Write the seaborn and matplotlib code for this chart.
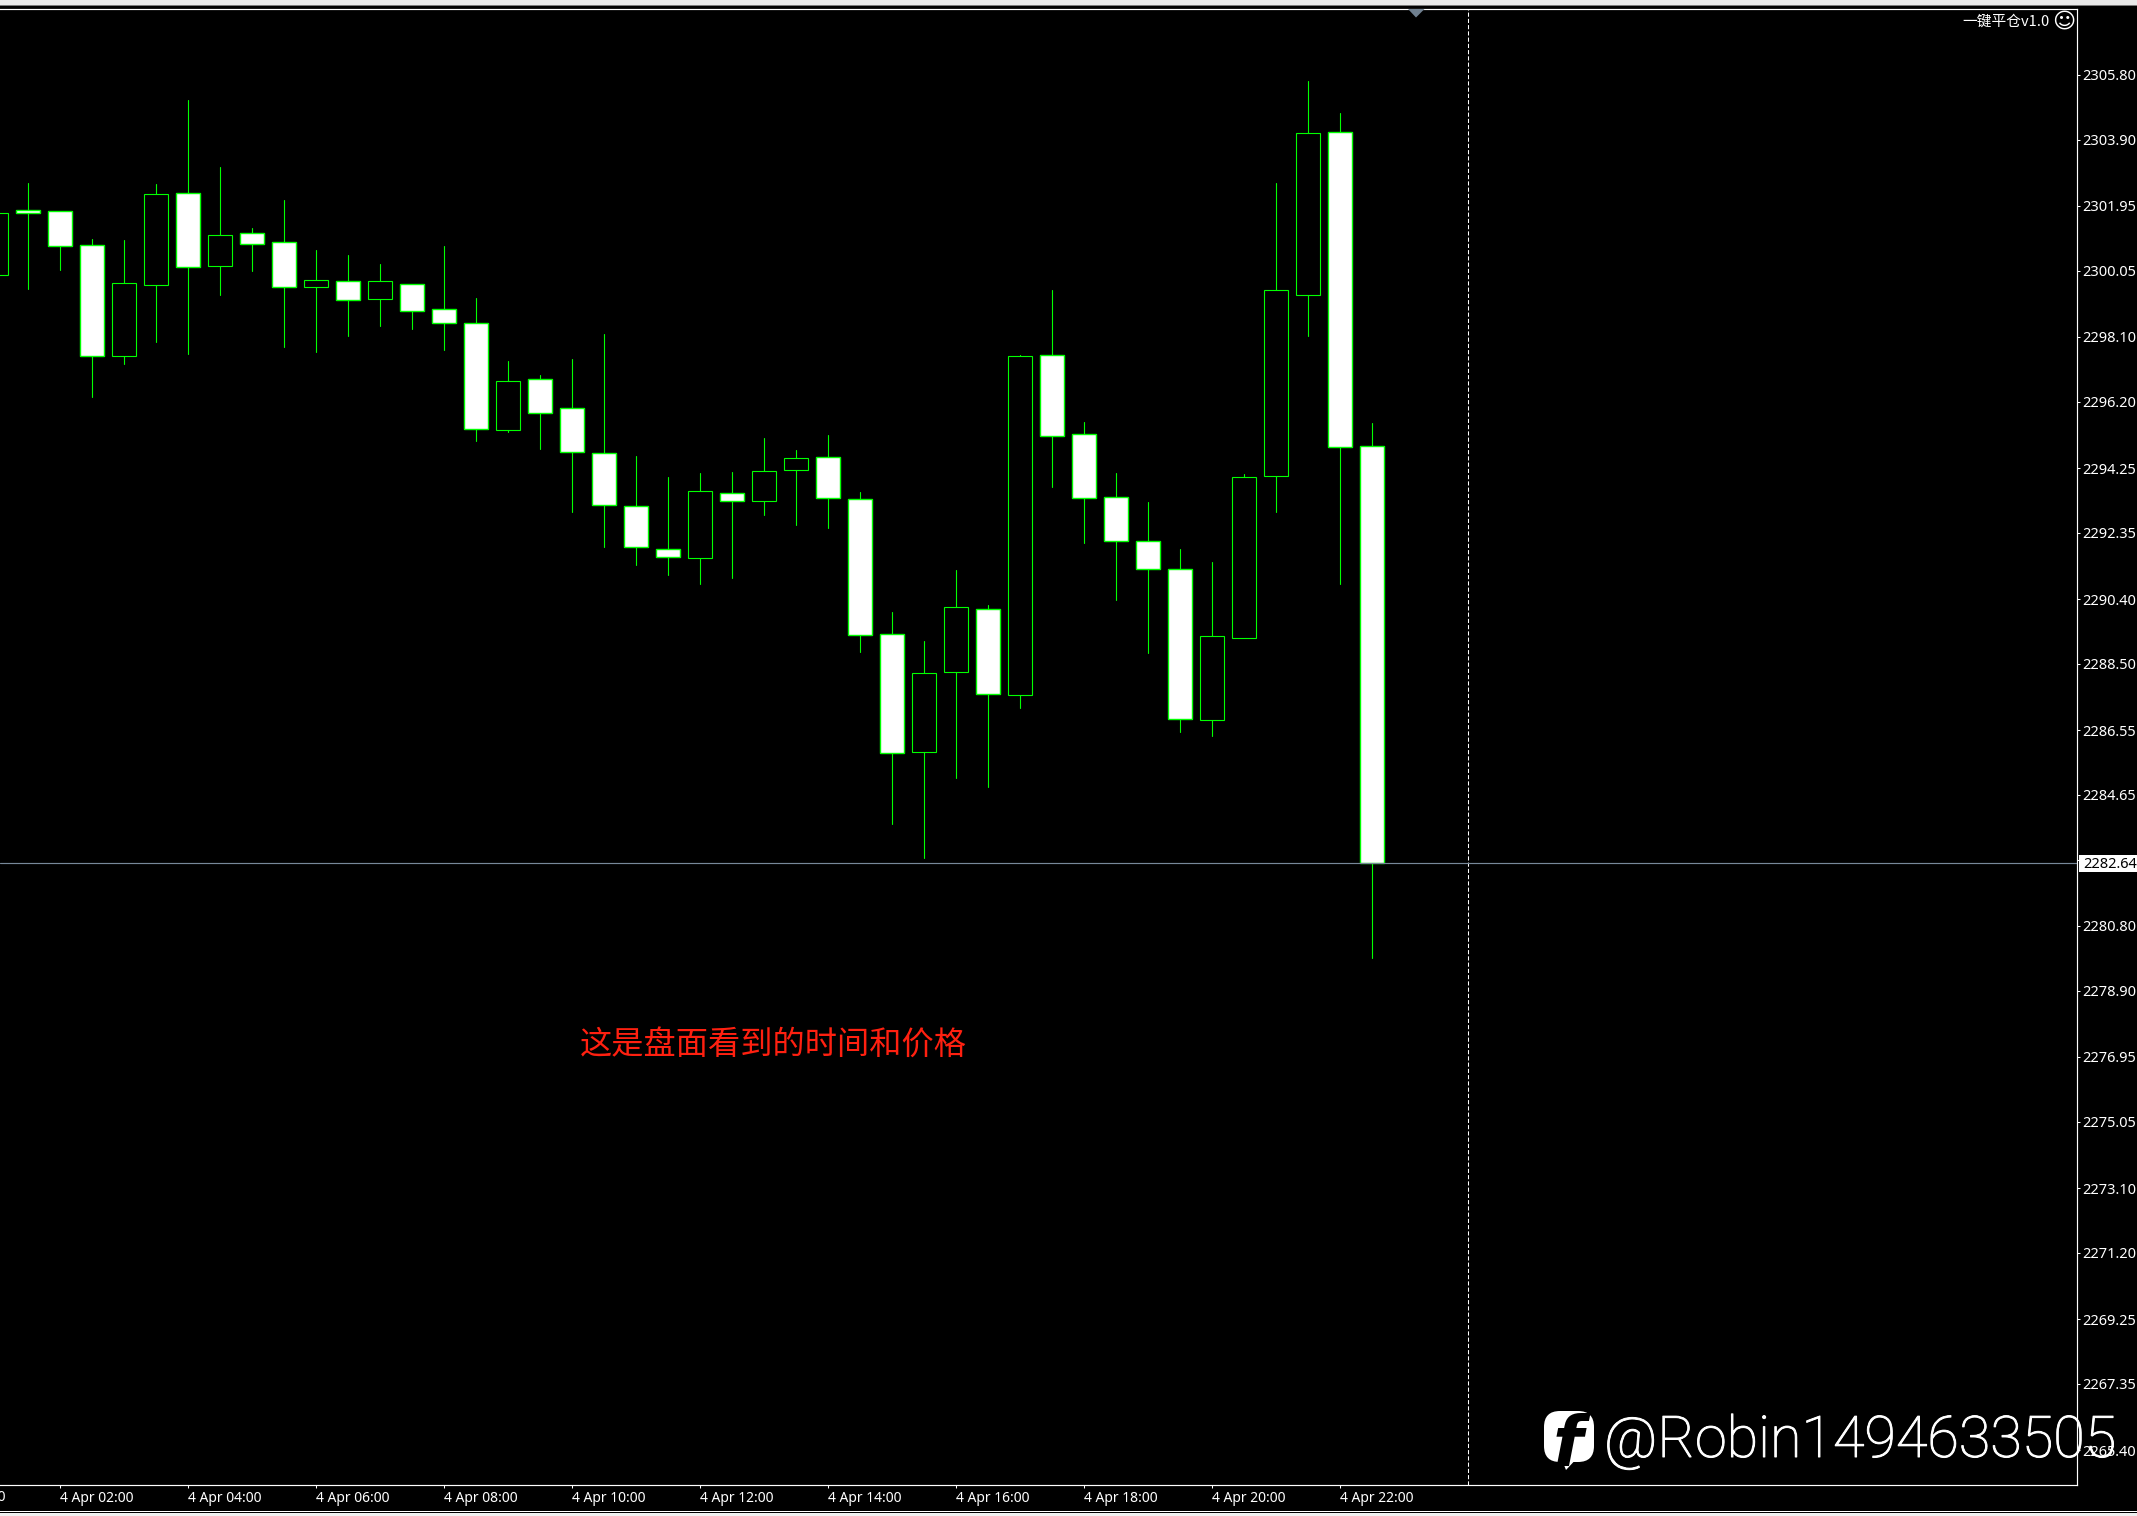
"""
plot.py
Candlestick chart of the 4 Apr session (30 minute bars), trading terminal look.
White body = falling bar, black body = rising bar.
"""

import numpy as np
import pandas as pd
import matplotlib.pyplot as plt
import matplotlib.patheffects as pe
import seaborn as sns
from matplotlib.patches import FancyBboxPatch, Polygon, Rectangle

# bars start at 01:00, one every half hour
hours = np.arange(1.0, 23.0, 0.5)

opens = [2299.93, 2301.82, 2301.79, 2300.79, 2297.55, 2299.64, 2302.32, 2300.19, 2301.15, 2300.88, 2299.58,
         2299.74, 2299.23, 2299.65, 2298.91, 2298.50, 2295.36, 2296.87, 2296.02, 2294.70, 2293.13, 2291.88,
         2291.60, 2293.53, 2293.27, 2294.18, 2294.57, 2293.33, 2289.37, 2285.92, 2288.27, 2290.10, 2287.57,
         2297.56, 2295.24, 2293.39, 2292.10, 2291.28, 2286.86, 2289.27, 2294.01, 2299.34, 2304.11, 2294.89]
closes = [2301.73, 2301.75, 2300.78, 2297.55, 2299.68, 2302.29, 2300.17, 2301.09, 2300.84, 2299.58, 2299.77,
          2299.20, 2299.74, 2298.87, 2298.52, 2295.39, 2296.80, 2295.86, 2294.71, 2293.16, 2291.92, 2291.63,
          2293.57, 2293.27, 2294.15, 2294.54, 2293.36, 2289.34, 2285.87, 2288.22, 2290.16, 2287.62, 2297.53,
          2295.20, 2293.38, 2292.12, 2291.29, 2286.89, 2289.31, 2293.98, 2299.47, 2304.08, 2294.88, 2282.64]
highs = [2301.90, 2302.62, 2301.79, 2300.98, 2300.95, 2302.59, 2305.06, 2303.09, 2301.30, 2302.12, 2300.66,
         2300.51, 2300.24, 2299.65, 2300.77, 2299.25, 2297.40, 2296.98, 2297.45, 2298.19, 2294.60, 2293.99,
         2294.10, 2294.13, 2295.13, 2294.78, 2295.22, 2293.55, 2290.02, 2289.17, 2291.26, 2290.23, 2297.57,
         2299.48, 2295.60, 2294.10, 2293.25, 2291.87, 2291.49, 2294.08, 2302.62, 2305.62, 2304.68, 2295.57]
lows = [2299.60, 2299.51, 2300.07, 2296.34, 2297.31, 2297.95, 2297.60, 2299.33, 2300.04, 2297.81, 2297.66,
        2298.13, 2298.42, 2298.34, 2297.72, 2295.05, 2295.32, 2294.82, 2292.97, 2291.94, 2291.40, 2291.11,
        2290.84, 2291.03, 2292.88, 2292.59, 2292.50, 2288.86, 2283.79, 2282.80, 2285.15, 2284.89, 2287.21,
        2293.70, 2292.05, 2290.37, 2288.82, 2286.50, 2286.38, 2289.27, 2292.97, 2298.13, 2290.85, 2279.87]

price_ticks = [2305.80, 2303.90, 2301.95, 2300.05, 2298.10, 2296.20, 2294.25, 2292.35, 2290.40, 2288.50, 2286.55,
               2284.65, 2282.75, 2280.80, 2278.90, 2276.95, 2275.05, 2273.10, 2271.20, 2269.25, 2267.35, 2265.40]
time_ticks = [2, 4, 6, 8, 10, 12, 14, 16, 18, 20, 22]
time_labels = ["4 Apr 02:00", "4 Apr 04:00", "4 Apr 06:00", "4 Apr 08:00", "4 Apr 10:00", "4 Apr 12:00",
               "4 Apr 14:00", "4 Apr 16:00", "4 Apr 18:00", "4 Apr 20:00", "4 Apr 22:00"]
last_price = 2282.64
separator_hour = 24

GREEN = "#00ff00"
CJK = ["Noto Sans CJK SC", "DejaVu Sans"]
W, H = 2137, 1516

sns.set_theme(style="dark")
plt.rcParams["font.family"] = ["Noto Sans", "DejaVu Sans"]

bars = pd.DataFrame({"hour": hours, "open": opens, "close": closes, "high": highs, "low": lows})
bars["bottom"] = bars[["open", "close"]].min(axis=1)
bars["body"] = (bars["open"] - bars["close"]).abs()
wicks = bars.melt(id_vars="hour", value_vars=["high", "low"], value_name="price")

fig = plt.figure(figsize=(W / 100, H / 100), dpi=100, facecolor="black")
ax = fig.add_axes([0, (H - 1484.5) / H, 2076.5 / W, 1476 / H], facecolor="black")

# wicks first, the bodies sit on top of them
sns.lineplot(data=wicks, x="hour", y="price", units="hour", estimator=None, color=GREEN,
             linewidth=0.8, legend=False, ax=ax)

falling = bars[bars["open"] >= bars["close"]]
rising = bars[bars["open"] < bars["close"]]
sns.barplot(data=falling, x="hour", y="body", bottom=falling["bottom"].values, native_scale=True, errorbar=None,
            width=0.75, color="white", saturation=1, edgecolor=GREEN, linewidth=1.0, zorder=3, ax=ax)
sns.barplot(data=rising, x="hour", y="body", bottom=rising["bottom"].values, native_scale=True, errorbar=None,
            width=0.75, color="black", saturation=1, edgecolor=GREEN, linewidth=0.8, zorder=3, ax=ax)

ax.axhline(last_price, color="#778899", lw=0.85, zorder=4)
ax.axvline(separator_hour, color="white", lw=0.75, linestyle=(0, (4, 2)), zorder=2)

ax.set_xlim(1.069, 33.514)
ax.set_ylim(2264.39, 2307.75)
ax.set_xlabel("")
ax.set_ylabel("")
ax.grid(False)

for side in ["top", "right", "bottom"]:
    ax.spines[side].set_color("white")
    ax.spines[side].set_linewidth(0.85)
ax.spines["left"].set_visible(False)

ax.yaxis.tick_right()
ax.set_yticks(price_ticks)
ax.set_yticklabels([f"{p:.2f}" for p in price_ticks])
ax.tick_params(axis="y", colors="white", length=2, width=0.75, pad=2.0, labelsize=10.5, right=True, left=False)
ax.get_yticklabels()[price_ticks.index(2282.75)].set_visible(False)

ax.set_xticks(time_ticks)
ax.set_xticklabels(time_labels, ha="left")
ax.tick_params(axis="x", colors="white", length=2.2, width=0.75, pad=2.5, labelsize=10, bottom=True)
ax.text(0, -0.0086, "4 Apr 00:00", color="white", fontsize=10, ha="left", va="center",
        transform=ax.get_xaxis_transform(), clip_on=False)

ax.text(13.15, 2277.28, "这是盘面看到的时间和价格", color="#ff2010", fontsize=23.2, family=CJK,
        ha="center", va="center")

# window frame, labels and watermark are placed in pixels on a top layer
top = fig.add_axes([0, 0, 1, 1], facecolor="none", zorder=10)
top.set_xlim(0, W)
top.set_ylim(H, 0)
top.axis("off")

top.add_patch(Rectangle((0, 0), W, 4.5, fc="#e8e8e8", ec="none"))
top.add_patch(Rectangle((0, 4.5), W, 1.5, fc="#7a7a7a", ec="none"))
top.add_patch(Rectangle((0, 1511), W, 1, fc="white", ec="none"))
top.add_patch(Rectangle((0, 1513), W, 3, fc="#f0f0f0", ec="none"))

# shift marker on the top edge
top.add_patch(Polygon([(1408, 9), (1424.5, 9), (1416, 17.5)], fc="#708090", ec="none"))

# current price box
top.add_patch(Rectangle((2078.5, 855), 58.5, 16.7, fc="white", ec="none"))
top.text(2083.5, 864.5, f"{last_price:.2f}", color="black", fontsize=10.5, ha="left", va="center")

top.text(2050, 22, "一键平仓v1.0", color="white", fontsize=10.6, family=CJK, ha="right", va="center")
top.text(2063.5, 22, "☺", color="white", fontsize=16, family="DejaVu Sans", ha="center", va="center")

# watermark
top.add_patch(FancyBboxPatch((1544, 1411), 50, 51, boxstyle="round,pad=0,rounding_size=16", fc="white", ec="none"))
top.add_patch(Polygon([(1560, 1455), (1580, 1455), (1566, 1470)], fc="white", ec="none"))
top.text(1568, 1466, "f", color="black", fontsize=50, family="DejaVu Sans", weight="bold", style="italic",
         ha="center", va="baseline")
top.text(1604, 1457, "@Robin1494633505", color="white", fontsize=41.4, family="Roboto", weight="light",
         ha="left", va="baseline", path_effects=[pe.withStroke(linewidth=0.7, foreground="white")])

fig.savefig("out.png", dpi=100, facecolor="black")
plt.close(fig)
